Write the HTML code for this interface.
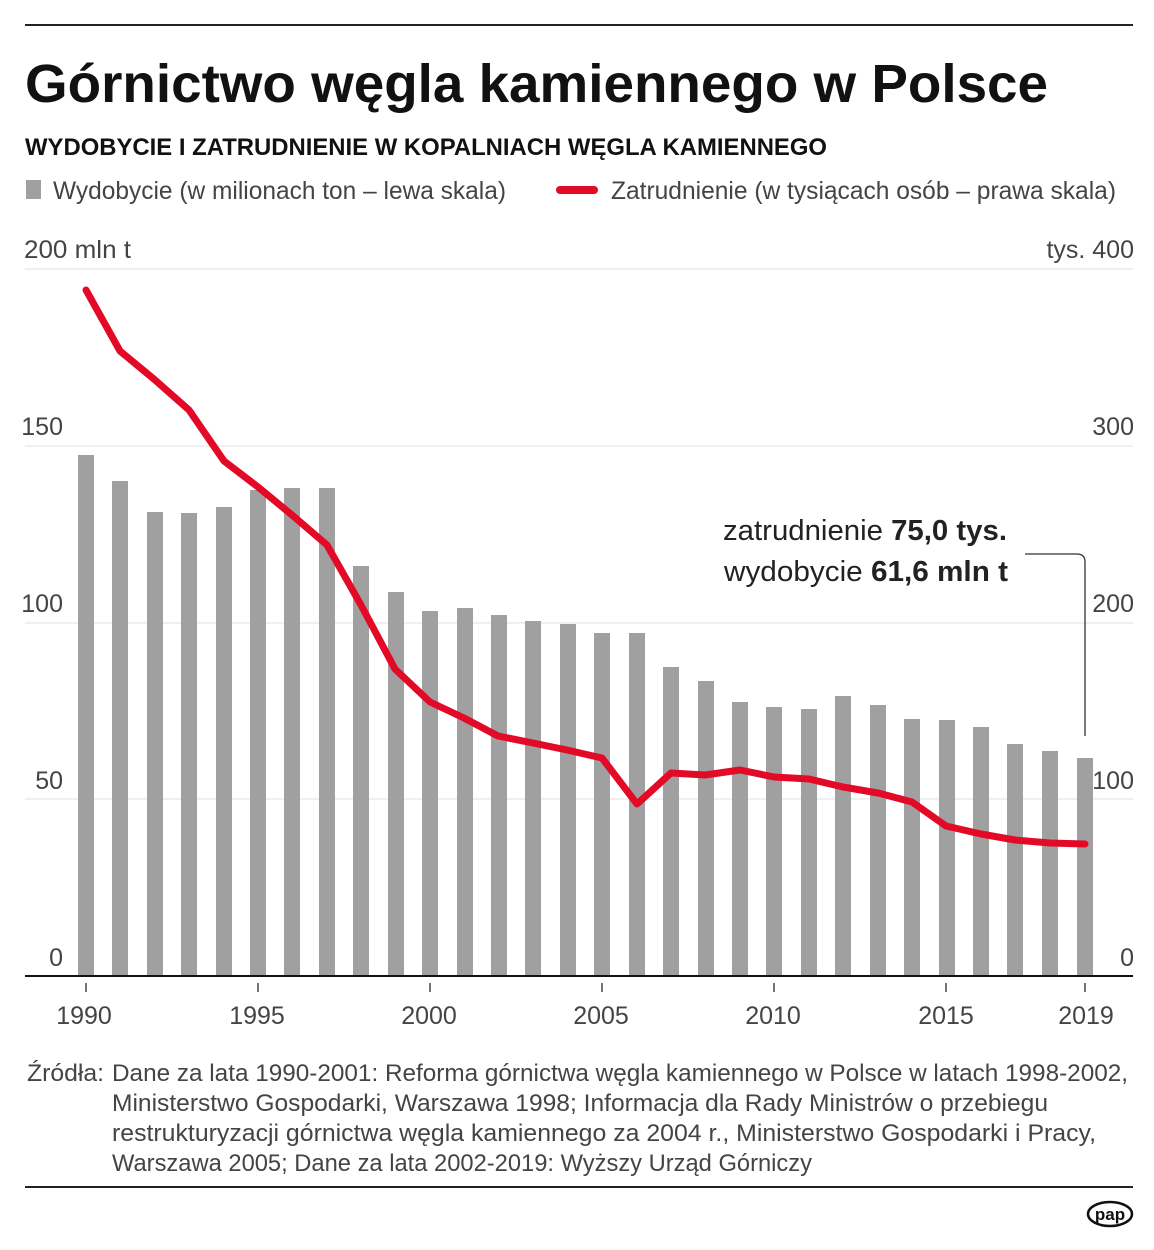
<!DOCTYPE html>
<html><head><meta charset="utf-8"><style>html,body{margin:0;padding:0;background:#fff}svg{display:block}</style></head>
<body>
<svg width="1154" height="1250" viewBox="0 0 1154 1250" xmlns="http://www.w3.org/2000/svg" font-family="Liberation Sans, sans-serif">
<line x1="25" y1="25" x2="1133" y2="25" stroke="#222" stroke-width="2"/>
<text x="25" y="102" font-size="54" font-weight="bold" fill="#111" textLength="1023" lengthAdjust="spacingAndGlyphs">Górnictwo węgla kamiennego w Polsce</text>
<text x="25" y="155" font-size="24" font-weight="bold" fill="#111" textLength="802" lengthAdjust="spacingAndGlyphs">WYDOBYCIE I ZATRUDNIENIE W KOPALNIACH WĘGLA KAMIENNEGO</text>
<rect x="26" y="180" width="15" height="19" fill="#a0a0a0"/>
<text x="53" y="199" font-size="25" fill="#444" textLength="453" lengthAdjust="spacingAndGlyphs">Wydobycie (w milionach ton – lewa skala)</text>
<line x1="560" y1="190" x2="594" y2="190" stroke="#e30a28" stroke-width="8" stroke-linecap="round"/>
<text x="611" y="199" font-size="25" fill="#444" textLength="505" lengthAdjust="spacingAndGlyphs">Zatrudnienie (w tysiącach osób – prawa skala)</text>
<g stroke="#e2e2e2" stroke-width="1">
<line x1="25" y1="269" x2="1133" y2="269"/><line x1="25" y1="446" x2="1133" y2="446"/><line x1="25" y1="623" x2="1133" y2="623"/><line x1="25" y1="799" x2="1133" y2="799"/>
</g>
<g font-size="25" fill="#444">
<text x="24" y="258" textLength="107" lengthAdjust="spacingAndGlyphs">200  mln t</text>
<text x="1134" y="258" text-anchor="end">tys. 400</text>
<text x="63" y="435" text-anchor="end">150</text><text x="63" y="612" text-anchor="end">100</text><text x="63" y="789" text-anchor="end">50</text><text x="63" y="966" text-anchor="end">0</text>
<text x="1134" y="435" text-anchor="end">300</text><text x="1134" y="612" text-anchor="end">200</text><text x="1134" y="789" text-anchor="end">100</text><text x="1134" y="966" text-anchor="end">0</text>
</g>
<g fill="#a0a0a0">
<rect x="78" y="455" width="16" height="521"/><rect x="112" y="481" width="16" height="495"/><rect x="147" y="512" width="16" height="464"/><rect x="181" y="513" width="16" height="463"/><rect x="216" y="507" width="16" height="469"/><rect x="250" y="490" width="16" height="486"/><rect x="284" y="488" width="16" height="488"/><rect x="319" y="488" width="16" height="488"/><rect x="353" y="566" width="16" height="410"/><rect x="388" y="592" width="16" height="384"/><rect x="422" y="611" width="16" height="365"/><rect x="457" y="608" width="16" height="368"/><rect x="491" y="615" width="16" height="361"/><rect x="525" y="621" width="16" height="355"/><rect x="560" y="624" width="16" height="352"/><rect x="594" y="633" width="16" height="343"/><rect x="629" y="633" width="16" height="343"/><rect x="663" y="667" width="16" height="309"/><rect x="698" y="681" width="16" height="295"/><rect x="732" y="702" width="16" height="274"/><rect x="766" y="707" width="16" height="269"/><rect x="801" y="709" width="16" height="267"/><rect x="835" y="696" width="16" height="280"/><rect x="870" y="705" width="16" height="271"/><rect x="904" y="719" width="16" height="257"/><rect x="939" y="720" width="16" height="256"/><rect x="973" y="727" width="16" height="249"/><rect x="1007" y="744" width="16" height="232"/><rect x="1042" y="751" width="16" height="225"/><rect x="1077" y="758" width="16" height="218"/>
</g>
<polyline fill="none" stroke="#e30a28" stroke-width="7" stroke-linejoin="round" stroke-linecap="round" points="86,290 120,351 155,380 189,410 224,461 258,487 292,515 327,545 361,605 395,669 430,702 464,718 498,736 533,743 567,750 602,758 637,804 671,773 705,775 740,770 774,777 809,779 843,787 878,793 912,802 946,826 981,834 1015,840 1050,843 1085,844"/>
<line x1="25" y1="976" x2="1133" y2="976" stroke="#111" stroke-width="2"/>
<g stroke="#444" stroke-width="1.5">
<line x1="86" y1="983" x2="86" y2="992"/><line x1="258" y1="983" x2="258" y2="992"/><line x1="430" y1="983" x2="430" y2="992"/><line x1="602" y1="983" x2="602" y2="992"/><line x1="774" y1="983" x2="774" y2="992"/><line x1="946" y1="983" x2="946" y2="992"/><line x1="1085" y1="983" x2="1085" y2="992"/>
</g>
<g font-size="25" fill="#444" text-anchor="middle">
<text x="84" y="1024">1990</text><text x="257" y="1024">1995</text><text x="429" y="1024">2000</text><text x="601" y="1024">2005</text><text x="773" y="1024">2010</text><text x="946" y="1024">2015</text><text x="1086" y="1024">2019</text>
</g>
<path d="M1025,554 H1077 Q1085,554 1085,562 V736" fill="none" stroke="#333" stroke-width="1.3"/>
<text x="723" y="540" font-size="29" fill="#222" textLength="284" lengthAdjust="spacingAndGlyphs">zatrudnienie <tspan font-weight="bold">75,0 tys.</tspan></text>
<text x="724" y="581" font-size="29" fill="#222" textLength="284" lengthAdjust="spacingAndGlyphs">wydobycie <tspan font-weight="bold">61,6 mln t</tspan></text>
<g font-size="24" fill="#444">
<text x="27" y="1081" textLength="77" lengthAdjust="spacingAndGlyphs">Źródła:</text>
<text x="112" y="1081" textLength="1016" lengthAdjust="spacingAndGlyphs">Dane za lata 1990-2001: Reforma górnictwa węgla kamiennego w Polsce w latach 1998-2002,</text>
<text x="112" y="1111" textLength="936" lengthAdjust="spacingAndGlyphs">Ministerstwo Gospodarki, Warszawa 1998; Informacja dla Rady Ministrów o przebiegu</text>
<text x="112" y="1141" textLength="984" lengthAdjust="spacingAndGlyphs">restrukturyzacji górnictwa węgla kamiennego za 2004 r., Ministerstwo Gospodarki i Pracy,</text>
<text x="112" y="1171" textLength="700" lengthAdjust="spacingAndGlyphs">Warszawa 2005; Dane za lata 2002-2019: Wyższy Urząd Górniczy</text>
</g>
<line x1="25" y1="1187" x2="1133" y2="1187" stroke="#222" stroke-width="2"/>
<ellipse cx="1110" cy="1214" rx="22" ry="12" fill="#fff" stroke="#111" stroke-width="2.5"/>
<text x="1110" y="1220" font-size="17" font-weight="bold" fill="#111" text-anchor="middle">pap</text>
</svg>
</body></html>
